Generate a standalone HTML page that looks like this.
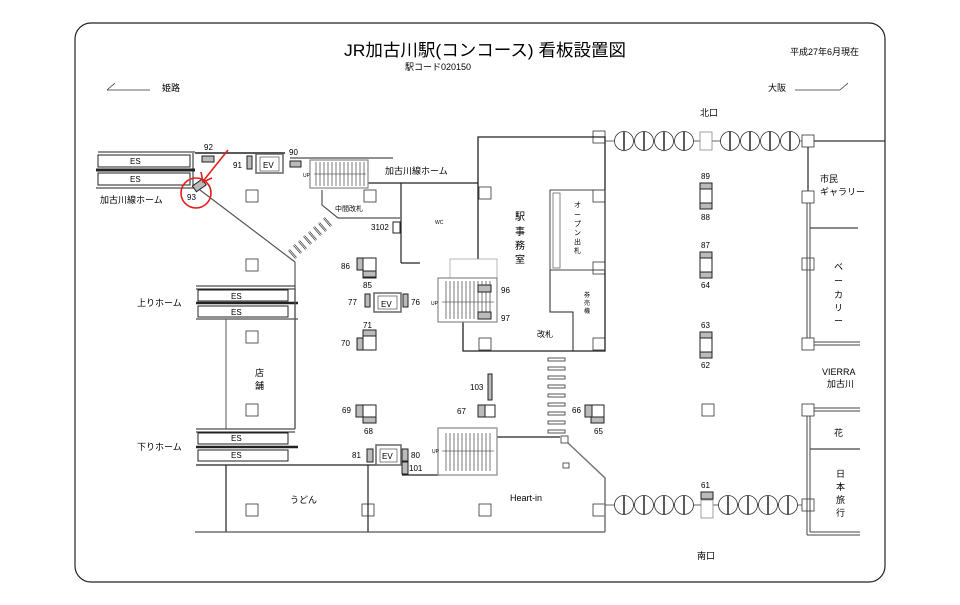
<!DOCTYPE html>
<html><head><meta charset="utf-8"><style>
html,body{margin:0;padding:0;background:#fff;}
svg{display:block;font-family:"Liberation Sans","Noto Sans CJK JP",sans-serif;}
</style></head><body>
<svg width="960" height="605" viewBox="0 0 960 605" xmlns="http://www.w3.org/2000/svg">
<rect x="75" y="23" width="810" height="559" rx="16" fill="#fff" stroke="#222" stroke-width="1.2"/>
<g fill="#000">
<text x="485" y="56" font-size="17" text-anchor="middle" textLength="282" lengthAdjust="spacingAndGlyphs">JR加古川駅(コンコース) 看板設置図</text>
<text x="405" y="70" font-size="9">駅コード020150</text>
<text x="790" y="55" font-size="9">平成27年6月現在</text>
<text x="162" y="91" font-size="9">姫路</text>
<text x="768" y="91" font-size="9">大阪</text>
<text x="700" y="116" font-size="9">北口</text>
<text x="697" y="559" font-size="9">南口</text>
</g>
<g stroke="#333" stroke-width="0.8" fill="none">
<polyline points="107,90 115,83"/><line x1="107" y1="90" x2="150" y2="90"/>
<line x1="795" y1="90" x2="840" y2="90"/><polyline points="840,90 848,83"/>
</g>

<g stroke="#222" fill="none" stroke-width="1">
<line x1="98" y1="152" x2="195" y2="152"/>
<line x1="98" y1="155" x2="190" y2="155"/>
<rect x="98" y="155" width="92" height="12" fill="#fff"/>
<line x1="96" y1="170" x2="195" y2="170" stroke-width="3"/>
<rect x="98" y="173" width="92" height="12" fill="#fff"/>
<line x1="96" y1="188" x2="195" y2="188"/>
<line x1="193" y1="153" x2="193" y2="186"/>
<line x1="195" y1="153" x2="285" y2="153" stroke-width="1.4"/>
<line x1="290" y1="158" x2="393" y2="158"/>
<line x1="368" y1="183" x2="478" y2="183" stroke-width="1.2"/>
</g>
<g font-size="8" fill="#000">
<text x="130" y="164">ES</text><text x="130" y="182">ES</text>
<text x="100" y="203" font-size="9">加古川線ホーム</text>
<text x="204" y="150">92</text><text x="187" y="200">93</text>
<text x="233" y="168">91</text><text x="289" y="155">90</text>
<text x="303" y="177" font-size="5">UP</text>
<text x="385" y="174" font-size="9">加古川線ホーム</text>
<text x="335" y="211" font-size="7">中間改札</text>
<text x="371" y="230">3102</text>
<text x="435" y="224" font-size="5">WC</text>
</g>
<rect x="202" y="156" width="12" height="6" fill="#bbb" stroke="#222"/>
<rect x="193" y="182" width="12" height="7" fill="#bbb" stroke="#222" transform="rotate(-35 199 185)"/>
<rect x="247" y="156" width="5" height="13" fill="#bbb" stroke="#222"/>
<rect x="290" y="161" width="11" height="6" fill="#bbb" stroke="#222"/>
<rect x="256" y="154" width="27" height="19" fill="#fff" stroke="#666" stroke-width="1.5"/>
<rect x="260" y="157" width="19" height="14" fill="#fff" stroke="#333" stroke-width="0.6"/>
<text x="263" y="168" font-size="8">EV</text>
<g stroke="#222" stroke-width="0.6">
<rect x="310" y="160" width="58" height="28" fill="#fff" stroke="#888" stroke-width="1.2"/>
<path d="M316,162V186M320,162V186M324,162V186M328,162V186M332,162V186M336,162V186M340,162V186M344,162V186M348,162V186M352,162V186M356,162V186M360,162V186M364,162V186"/>
<line x1="314" y1="174" x2="366" y2="174"/>
</g>
<g stroke="#555" fill="none" stroke-width="1.2">
<line x1="200" y1="190" x2="295" y2="262"/>
<line x1="295" y1="262" x2="295" y2="288"/>
<polyline points="322,190 322,205 338,218 400,218"/>
<line x1="401" y1="183" x2="401" y2="263" stroke="#222"/><line x1="401" y1="263" x2="420" y2="263" stroke="#222"/>
</g>
<!-- diagonal stairs: bars perpendicular to run -->
<g stroke="#333" stroke-width="2.2" stroke-linecap="butt">
<line x1="289" y1="250" x2="296" y2="258"/>
<line x1="294" y1="245" x2="301" y2="253"/>
<line x1="299" y1="241" x2="306" y2="249"/>
<line x1="304" y1="236" x2="311" y2="244"/>
<line x1="309" y1="232" x2="316" y2="240"/>
<line x1="314" y1="227" x2="321" y2="235"/>
<line x1="319" y1="223" x2="326" y2="231"/>
<line x1="324" y1="218" x2="331" y2="226"/>
</g>
<g stroke="#fff" stroke-width="0.8">
<line x1="289" y1="250" x2="296" y2="258"/>
<line x1="294" y1="245" x2="301" y2="253"/>
<line x1="299" y1="241" x2="306" y2="249"/>
<line x1="304" y1="236" x2="311" y2="244"/>
<line x1="309" y1="232" x2="316" y2="240"/>
<line x1="314" y1="227" x2="321" y2="235"/>
<line x1="319" y1="223" x2="326" y2="231"/>
<line x1="324" y1="218" x2="331" y2="226"/>
</g>
<rect x="393" y="222" width="7" height="11" fill="#fff" stroke="#222"/>
<circle cx="196" cy="193" r="15" fill="none" stroke="#e0201c" stroke-width="1.6"/>
<line x1="228" y1="150" x2="204" y2="180" stroke="#e0201c" stroke-width="1.6"/>
<polyline points="201,172 203,182 212,178" fill="none" stroke="#e0201c" stroke-width="1.6"/>

<g fill="#fff" stroke="#333" stroke-width="0.8">
<rect x="246" y="190" width="12" height="12"/><rect x="364" y="190" width="12" height="12"/>
<rect x="246" y="259" width="12" height="12"/><rect x="246" y="331" width="12" height="12"/>
<rect x="246" y="404" width="12" height="12"/><rect x="246" y="504" width="12" height="12"/>
<rect x="362" y="504" width="12" height="12"/><rect x="479" y="504" width="12" height="12"/>
<rect x="593" y="504" width="12" height="12"/>
<rect x="593" y="131" width="12" height="12"/><rect x="479" y="187" width="12" height="12"/>
<rect x="593" y="190" width="12" height="12"/><rect x="479" y="262" width="12" height="12"/>
<rect x="593" y="262" width="12" height="12"/><rect x="479" y="338" width="12" height="12"/>
<rect x="593" y="338" width="12" height="12"/>
<rect x="702" y="404" width="12" height="12"/>
<rect x="802" y="135" width="12" height="12"/><rect x="802" y="191" width="12" height="12"/>
<rect x="802" y="258" width="12" height="12"/><rect x="802" y="338" width="12" height="12"/>
<rect x="802" y="404" width="12" height="12"/><rect x="802" y="499" width="12" height="12"/>
</g>

<g stroke="#222" fill="none">
<line x1="196" y1="286" x2="295" y2="286"/><line x1="196" y1="289" x2="295" y2="289"/>
<rect x="198" y="290" width="90" height="11" fill="#fff"/>
<line x1="196" y1="303" x2="298" y2="303" stroke-width="2.5"/>
<rect x="198" y="306" width="90" height="11" fill="#fff"/>
<line x1="196" y1="319" x2="298" y2="319"/>
<line x1="196" y1="429" x2="295" y2="429"/><line x1="196" y1="432" x2="295" y2="432"/>
<rect x="198" y="433" width="90" height="11" fill="#fff"/>
<line x1="196" y1="447" x2="298" y2="447" stroke-width="2.5"/>
<rect x="198" y="450" width="90" height="11" fill="#fff"/>
<line x1="196" y1="465" x2="380" y2="465" stroke-width="1.2"/>
<line x1="226" y1="319" x2="226" y2="429" stroke="#555"/>
<line x1="295" y1="288" x2="295" y2="429" stroke="#555" stroke-width="1.4"/>
<line x1="226" y1="465" x2="226" y2="532" stroke-width="1.2"/>
<line x1="368" y1="465" x2="368" y2="532" stroke-width="1.2"/>
<line x1="195" y1="532" x2="605" y2="532" stroke="#555" stroke-width="1.2"/>
<line x1="402" y1="475" x2="440" y2="475" stroke-width="1.2"/>
<line x1="497" y1="437" x2="560" y2="437" stroke-width="1.2"/>
<polyline points="568,443 605,478 605,532" stroke="#777" stroke-width="1.5"/>
</g>
<g font-size="8" fill="#000">
<text x="231" y="299">ES</text><text x="231" y="315">ES</text>
<text x="231" y="441">ES</text><text x="231" y="458">ES</text>
<text x="137" y="306" font-size="9">上りホーム</text>
<text x="137" y="450" font-size="9">下りホーム</text>
<text x="255" y="376" font-size="9">店</text><text x="255" y="389" font-size="9">舗</text>
<text x="290" y="503" font-size="9">うどん</text>
<text x="510" y="501" font-size="9">Heart-in</text>
</g>
<rect x="563" y="463" width="6" height="5" fill="#fff" stroke="#333" stroke-width="0.8"/>
<rect x="561" y="436" width="7" height="7" fill="#fff" stroke="#333" stroke-width="0.8"/>

<g stroke="#222" fill="none" stroke-width="1.3">
<polyline points="478,283 478,137 605,137 605,351 463,351 463,300"/>
<rect x="550" y="190" width="55" height="80" stroke="#444" stroke-width="1"/>
<rect x="553" y="193" width="7" height="75" stroke="#666" stroke-width="0.8"/>
<polyline points="550,270 550,312 573,312 573,351" stroke-width="1"/>
</g>
<g font-size="10" fill="#000">
<text x="515" y="220">駅</text><text x="515" y="235">事</text><text x="515" y="249">務</text><text x="515" y="263">室</text>
<text x="537" y="337" font-size="8">改札</text>
<text x="574" y="207" font-size="7">オ</text><text x="574" y="217" font-size="7">ー</text><text x="574" y="226" font-size="7">プ</text><text x="574" y="235" font-size="7">ン</text><text x="574" y="244" font-size="7">出</text><text x="574" y="253" font-size="7">札</text>
<text x="584" y="297" font-size="6">券</text><text x="584" y="305" font-size="6">売</text><text x="584" y="313" font-size="6">機</text>
</g>
<g stroke="#222" stroke-width="0.6">
<rect x="450" y="259" width="47" height="20" fill="#fff" stroke="#888"/>
<rect x="438" y="278" width="59" height="44" fill="#fff" stroke="#888" stroke-width="1.2"/>
<path d="M446,281V319M450,281V319M454,281V319M458,281V319M462,281V319M466,281V319M470,281V319M474,281V319M478,281V319M482,281V319M486,281V319M490,281V319"/>
<line x1="442" y1="302" x2="494" y2="302"/>
<rect x="438" y="428" width="59" height="47" fill="#fff" stroke="#888" stroke-width="1.2"/>
<path d="M446,433V471M450,433V471M454,433V471M458,433V471M462,433V471M466,433V471M470,433V471M474,433V471M478,433V471M482,433V471M486,433V471M490,433V471"/>
<line x1="442" y1="451" x2="494" y2="451"/>
</g>
<rect x="478" y="285" width="13" height="7" fill="#bbb" stroke="#222"/>
<rect x="478" y="312" width="13" height="7" fill="#bbb" stroke="#222"/>
<g font-size="8" fill="#000">
<text x="501" y="293">96</text><text x="501" y="321">97</text>
<text x="431" y="305" font-size="5">UP</text><text x="432" y="453" font-size="5">UP</text>
</g>
<g fill="#fff" stroke="#444" stroke-width="0.9">
<rect x="548" y="358" width="17" height="3"/><rect x="548" y="367" width="17" height="3"/><rect x="548" y="376" width="17" height="3"/><rect x="548" y="385" width="17" height="3"/><rect x="548" y="394" width="17" height="3"/><rect x="548" y="403" width="17" height="3"/><rect x="548" y="412" width="17" height="3"/><rect x="548" y="421" width="17" height="3"/><rect x="548" y="430" width="17" height="3"/>
</g>

<g stroke="#222" stroke-width="1">
<rect x="363" y="258" width="13" height="20" fill="#fff"/>
<rect x="357" y="258" width="6" height="12" fill="#bbb"/><rect x="363" y="271" width="13" height="6" fill="#bbb"/>
<rect x="363" y="330" width="13" height="20" fill="#fff"/>
<rect x="363" y="330" width="13" height="6" fill="#bbb"/><rect x="357" y="338" width="6" height="12" fill="#bbb"/>
<rect x="363" y="405" width="13" height="18" fill="#fff"/>
<rect x="356" y="405" width="7" height="12" fill="#bbb"/><rect x="363" y="417" width="13" height="6" fill="#bbb"/>
<rect x="591" y="405" width="13" height="18" fill="#fff"/>
<rect x="585" y="405" width="7" height="12" fill="#bbb"/><rect x="591" y="417" width="13" height="6" fill="#bbb"/>
<rect x="485" y="405" width="10" height="12" fill="#fff"/>
<rect x="478" y="405" width="7" height="12" fill="#bbb"/>
<rect x="488" y="374" width="4" height="26" fill="#bbb"/>
<rect x="365" y="294" width="5" height="13" fill="#bbb"/><rect x="403" y="294" width="5" height="13" fill="#bbb"/>
<rect x="367" y="449" width="6" height="13" fill="#bbb"/><rect x="402" y="449" width="6" height="12" fill="#bbb"/>
<rect x="402" y="462" width="6" height="12" fill="#bbb"/>
<rect x="700" y="183" width="12" height="26" fill="#fff"/><rect x="700" y="183" width="12" height="6" fill="#bbb"/><rect x="700" y="203" width="12" height="6" fill="#bbb"/>
<rect x="700" y="252" width="12" height="26" fill="#fff"/><rect x="700" y="252" width="12" height="6" fill="#bbb"/><rect x="700" y="272" width="12" height="6" fill="#bbb"/>
<rect x="700" y="332" width="12" height="26" fill="#fff"/><rect x="700" y="332" width="12" height="6" fill="#bbb"/><rect x="700" y="352" width="12" height="6" fill="#bbb"/>
<rect x="701" y="492" width="12" height="7" fill="#bbb"/>
</g>
<rect x="374" y="293" width="27" height="19" fill="#fff" stroke="#666" stroke-width="1.5"/>
<rect x="378" y="296" width="19" height="13" fill="#fff" stroke="#333" stroke-width="0.6"/>
<text x="381" y="307" font-size="8">EV</text>
<rect x="376" y="445" width="25" height="20" fill="#fff" stroke="#666" stroke-width="1.5"/>
<rect x="380" y="449" width="17" height="13" fill="#fff" stroke="#333" stroke-width="0.6"/>
<text x="382" y="459" font-size="8">EV</text>
<g font-size="8" fill="#000">
<text x="341" y="269">86</text><text x="363" y="288">85</text>
<text x="348" y="305">77</text><text x="411" y="305">76</text>
<text x="363" y="328">71</text><text x="341" y="346">70</text>
<text x="342" y="413">69</text><text x="364" y="434">68</text>
<text x="457" y="414">67</text><text x="470" y="390">103</text>
<text x="572" y="413">66</text><text x="594" y="434">65</text>
<text x="352" y="458">81</text><text x="411" y="458">80</text><text x="409" y="471">101</text>
<text x="701" y="179">89</text><text x="701" y="220">88</text>
<text x="701" y="248">87</text><text x="701" y="288">64</text>
<text x="701" y="328">63</text><text x="701" y="368">62</text>
<text x="701" y="488">61</text>
</g>

<g stroke="#333" fill="#fff" stroke-width="0.8">
<line x1="605" y1="141" x2="802" y2="141"/><line x1="814" y1="141" x2="885" y2="141" stroke-width="1.2"/>
<circle cx="624" cy="141" r="9.5"/><circle cx="644" cy="141" r="9.5"/><circle cx="664" cy="141" r="9.5"/><circle cx="684" cy="141" r="9.5"/>
<circle cx="730" cy="141" r="9.5"/><circle cx="750" cy="141" r="9.5"/><circle cx="770" cy="141" r="9.5"/><circle cx="790" cy="141" r="9.5"/>
<rect x="700" y="132" width="12" height="18" stroke="#888"/>
<path d="M624,131.5V150.5M644,131.5V150.5M664,131.5V150.5M684,131.5V150.5M730,131.5V150.5M750,131.5V150.5M770,131.5V150.5M790,131.5V150.5" stroke-width="1.6"/>
<line x1="605" y1="505" x2="802" y2="505"/>
<circle cx="624" cy="505" r="9.5"/><circle cx="644" cy="505" r="9.5"/><circle cx="664" cy="505" r="9.5"/><circle cx="684" cy="505" r="9.5"/>
<circle cx="728" cy="505" r="9.5"/><circle cx="748" cy="505" r="9.5"/><circle cx="768" cy="505" r="9.5"/><circle cx="788" cy="505" r="9.5"/>
<rect x="701" y="500" width="12" height="18" stroke="#888"/>
<path d="M624,495.5V514.5M644,495.5V514.5M664,495.5V514.5M684,495.5V514.5M728,495.5V514.5M748,495.5V514.5M768,495.5V514.5M788,495.5V514.5" stroke-width="1.6"/>
</g>
<g stroke="#444" fill="none" stroke-width="1">
<line x1="808" y1="147" x2="808" y2="191" stroke-width="1.4"/>
<line x1="807" y1="203" x2="807" y2="338"/><line x1="810" y1="203" x2="810" y2="338"/>
<line x1="810" y1="228" x2="858" y2="228" stroke-width="1.2"/>
<line x1="814" y1="342" x2="860" y2="342"/><line x1="814" y1="345" x2="860" y2="345"/>
<line x1="814" y1="408" x2="860" y2="408"/><line x1="814" y1="411" x2="860" y2="411"/>
<line x1="807" y1="416" x2="807" y2="535"/><line x1="810" y1="416" x2="810" y2="532"/>
<line x1="810" y1="449" x2="860" y2="449" stroke-width="1.2"/>
<line x1="807" y1="535" x2="860" y2="535"/><line x1="810" y1="532" x2="860" y2="532"/>
</g>
<g font-size="9" fill="#000">
<text x="820" y="182">市民</text><text x="820" y="195">ギャラリー</text>
<text x="834" y="270">ベ</text><text x="834" y="284">ー</text><text x="834" y="298">カ</text><text x="834" y="311">リ</text><text x="834" y="324">ー</text>
<text x="822" y="375">VIERRA</text><text x="827" y="387">加古川</text>
<text x="834" y="436">花</text>
<text x="836" y="477">日</text><text x="836" y="490">本</text><text x="836" y="503">旅</text><text x="836" y="516">行</text>
</g>
</svg>
</body></html>
